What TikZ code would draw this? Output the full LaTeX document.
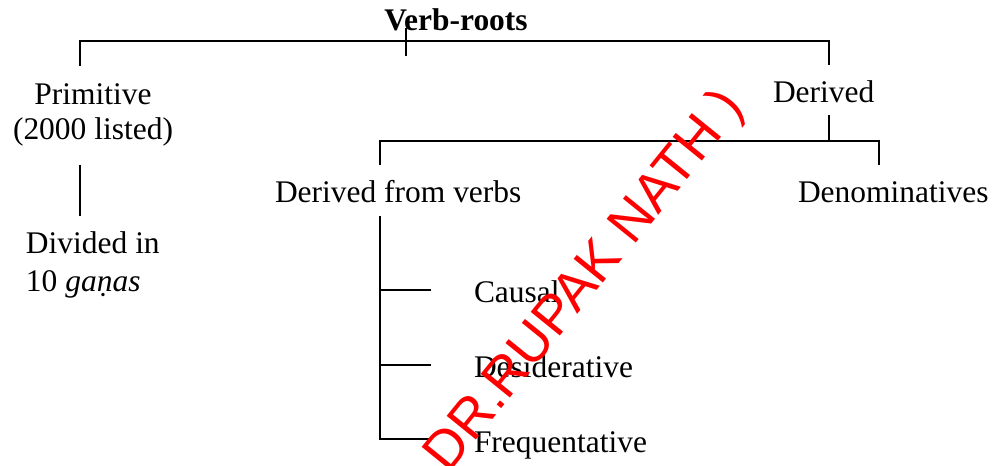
\documentclass[tikz,border=0pt]{standalone}
\usepackage{fontspec}
\setmainfont{Liberation Serif}
\newfontfamily\wmfont{Liberation Sans}
\begin{document}
\begin{tikzpicture}[x=0.75pt,y=-0.75pt,
  lbl/.style={font=\fontsize{23.6}{27}\selectfont, inner sep=0pt, outer sep=0pt, text=black},
  conn/.style={line width=1.1pt, draw=black},
  wm/.style={text=red, font=\wmfont\fontsize{41}{41}\selectfont, inner sep=0pt}]
\useasboundingbox (0,0) rectangle (997,466);
% nodes
\node[lbl, anchor=base] (root) at (456,31) {\textbf{Verb-roots}};
\node[lbl, anchor=base] (prim) at (93,105) {Primitive};
\node[lbl, anchor=base] (primn) at (93,140) {(2000 listed)};
\node[lbl, anchor=base west] (der) at (773,103) {Derived};
\node[lbl, anchor=base west] (dfv) at (275,203) {Derived from verbs};
\node[lbl, anchor=base west] (denom) at (798,203) {Denominatives};
\node[lbl, anchor=base west] (div) at (26,254) {Divided in};
\node[lbl, anchor=base west] (gan) at (26,292) {10 \textit{gaṇas}};
\node[lbl, anchor=base west] (caus) at (474,303) {Causal};
\node[lbl, anchor=base west] (des) at (474,378) {Desiderative};
\node[lbl, anchor=base west] (freq) at (474,453) {Frequentative};
% connector points
\coordinate (rt) at (406,28);
\coordinate (rb) at (406,56);
\coordinate (pl) at (80,66);
\coordinate (dr) at (829,65);
\coordinate (du) at (829,115);
\coordinate (fl) at (380,165);
\coordinate (dn) at (879,165);
\coordinate (pv1) at (80,165);
\coordinate (pv2) at (80,216);
\coordinate (vt) at (380,216);
\coordinate (c1) at (431,290);
\coordinate (c2) at (431,365);
\coordinate (c3) at (431,439);
% connectors
\draw[conn] (pl) -- (pl |- 0,41) -- (dr |- 0,41) -- (dr);
\draw[conn] (rt) -- (rb);
\draw[conn] (du) -- (du |- 0,141);
\draw[conn] (fl) -- (fl |- 0,141) -- (dn |- 0,141) -- (dn);
\draw[conn] (pv1) -- (pv2);
\draw[conn] (vt) -- (vt |- c3) -- (c3);
\draw[conn] (vt |- c1) -- (c1);
\draw[conn] (vt |- c2) -- (c2);
% watermark
\node[wm, rotate=51] (wmk) at (586,282) {DR.RUPAK NATH )};
\end{tikzpicture}
\end{document}
